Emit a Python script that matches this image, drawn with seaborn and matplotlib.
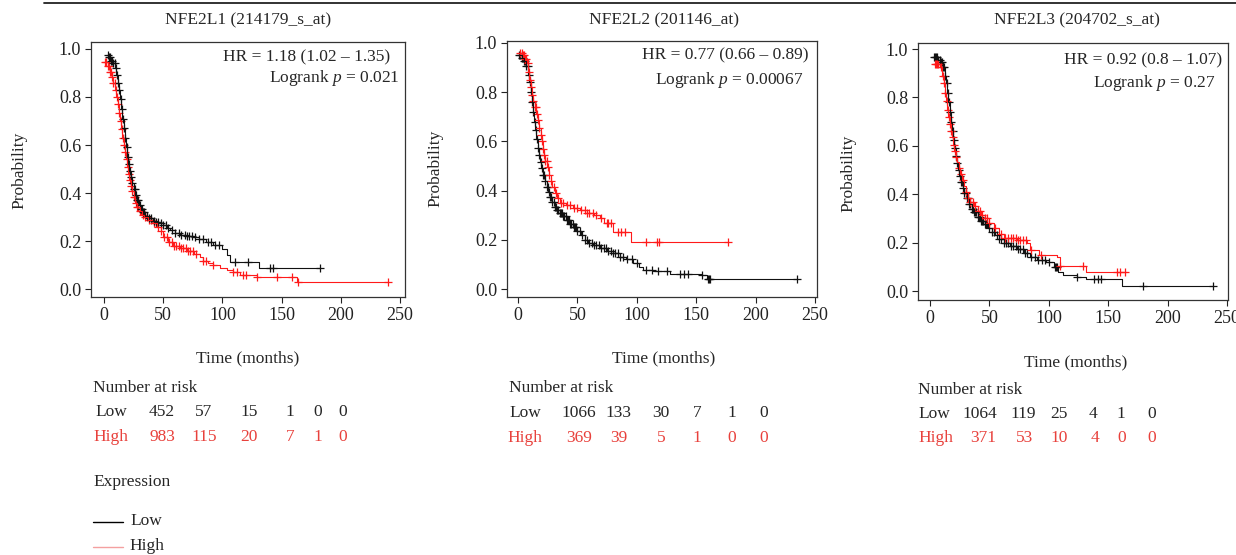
import matplotlib
matplotlib.use("Agg")
import matplotlib.pyplot as plt
from matplotlib.lines import Line2D
import numpy as np
import seaborn as sns

# ---- data ----
titles = ["NFE2L1 (214179_s_at)", "NFE2L2 (201146_at)", "NFE2L3 (204702_s_at)"]
hr_text = ["HR = 1.18 (1.02 \u2013 1.35)", "HR = 0.77 (0.66 \u2013 0.89)", "HR = 0.92 (0.8 \u2013 1.07)"]
logrank_p = ["0.021", "0.00067", "0.27"]

# NFE2L1
l1_low_t = [2, 4, 6, 8, 9.5, 10.5, 11.5, 12.5, 13.5, 14.5, 15.5, 16.5, 17.5, 18.5, 19.5, 20.5, 21.5, 22.5, 23.5,
            25, 26.5, 28, 29.5, 31, 33, 35, 38, 41, 44, 47, 50, 53, 56, 60, 64, 70, 75, 80, 86, 92, 100, 104, 106,
            131, 182]
l1_low_s = [0.975, 0.965, 0.95, 0.94, 0.92, 0.89, 0.86, 0.83, 0.79, 0.75, 0.71, 0.67, 0.63, 0.59, 0.55, 0.52, 0.49,
            0.465, 0.44, 0.415, 0.39, 0.37, 0.35, 0.335, 0.32, 0.305, 0.295, 0.285, 0.28, 0.275, 0.265, 0.255, 0.245,
            0.235, 0.226, 0.222, 0.217, 0.207, 0.195, 0.185, 0.165, 0.14, 0.114, 0.088, 0.088]
l1_low_cens = [3, 4, 5, 6, 7, 8, 9, 10, 11, 12, 13, 14, 15, 16, 17, 18, 19, 20, 21, 22, 23, 24, 25, 26, 27, 28, 29,
               30, 31, 32, 33, 34, 36, 38, 40, 42, 44, 46, 48, 50, 52, 54, 57, 60, 63, 65, 68, 70, 72, 74, 77, 80,
               84, 88, 90, 94, 97, 111, 122, 140, 143, 182]
l1_high_t = [1, 3, 5, 6.5, 8, 9.5, 10.5, 11.5, 12.5, 13.5, 14.5, 15.5, 16.5, 17.5, 18.5, 19.5, 20.5, 21.5, 22.5,
             23.5, 25, 26.5, 28, 30, 32, 34, 37, 41, 45, 48, 50, 54, 58, 64, 70, 76, 81, 84, 88, 92, 98, 104, 109,
             115, 129, 163, 240]
l1_high_s = [0.945, 0.93, 0.905, 0.885, 0.86, 0.83, 0.80, 0.77, 0.735, 0.70, 0.665, 0.63, 0.60, 0.57, 0.54, 0.51,
             0.48, 0.455, 0.43, 0.41, 0.385, 0.36, 0.34, 0.325, 0.31, 0.30, 0.287, 0.275, 0.26, 0.24, 0.215, 0.195,
             0.18, 0.17, 0.158, 0.145, 0.135, 0.118, 0.11, 0.10, 0.087, 0.08, 0.07, 0.06, 0.05, 0.028, 0.028]
l1_high_cens = [1, 2, 3, 4, 5, 6, 7, 8, 9, 10, 11, 12, 13, 14, 15, 16, 17, 18, 19, 20, 21, 22, 23, 24, 25, 26, 27,
                28, 29, 30, 31, 33, 35, 36, 38, 40, 42, 44, 46, 48, 51, 53, 55, 57, 59, 61, 63, 65, 67, 69, 71, 73,
                75, 78, 84, 86, 92, 109, 112, 117, 120, 129, 146, 159, 164, 240]

# NFE2L2
l2_low_t = [1, 3, 5, 7, 8.5, 9.5, 10.5, 11.5, 12.5, 13.5, 14.5, 15.5, 16.5, 17.5, 18.5, 19.5, 21, 22.5, 24, 25.5,
            27, 29, 31, 33, 35, 38, 41, 44, 47, 50, 53, 56, 59, 63, 69, 75, 80, 86, 91, 97, 102, 105, 114, 128, 155,
            159, 235]
l2_low_s = [0.95, 0.94, 0.925, 0.905, 0.87, 0.84, 0.80, 0.76, 0.72, 0.68, 0.645, 0.61, 0.575, 0.545, 0.515, 0.49,
            0.465, 0.44, 0.415, 0.395, 0.375, 0.355, 0.335, 0.32, 0.31, 0.295, 0.28, 0.265, 0.25, 0.235, 0.22, 0.20,
            0.185, 0.177, 0.167, 0.155, 0.145, 0.132, 0.12, 0.105, 0.088, 0.077, 0.072, 0.06, 0.056, 0.042, 0.042]
l2_low_cens = [1, 2, 3, 4, 5, 6, 7, 8, 9, 10, 11, 12, 13, 14, 15, 16, 17, 18, 19, 20, 21, 22, 23, 24, 25, 26, 27,
               28, 29, 30, 31, 32, 33, 34, 35, 36, 37, 38, 39, 40, 41, 42, 43, 44, 45, 46, 47, 48, 49, 50, 52, 54,
               56, 58, 60, 62, 64, 66, 68, 70, 72, 74, 76, 78, 80, 82, 84, 86, 88, 92, 96, 100, 108, 113, 118, 125,
               136, 140, 143, 155, 160, 161, 162, 235]
l2_high_t = [1.5, 4, 6, 7.5, 8.5, 9.5, 10.5, 11.5, 12.5, 14, 15.5, 17, 18, 19, 20, 21, 22, 23, 24.5, 26, 27.5, 29,
             31, 33, 35, 40, 46, 52, 58, 64, 69, 72, 80, 95, 177]
l2_high_s = [0.96, 0.95, 0.935, 0.92, 0.88, 0.85, 0.82, 0.79, 0.765, 0.74, 0.71, 0.685, 0.655, 0.625, 0.60, 0.57,
             0.545, 0.52, 0.495, 0.465, 0.44, 0.415, 0.39, 0.37, 0.35, 0.34, 0.33, 0.32, 0.31, 0.30, 0.29, 0.268,
             0.232, 0.19, 0.19]
l2_high_cens = [2, 3, 4, 5, 6, 7, 8, 9, 10, 11, 12, 13, 14, 15, 16, 17, 18, 19, 20, 21, 22, 23, 24, 25, 26, 28, 30,
                32, 34, 36, 38, 41, 44, 47, 50, 53, 56, 58, 60, 63, 66, 70, 75, 76, 78, 84, 87, 90, 108, 117, 119,
                177]

# NFE2L3
l3_low_t = [4, 7, 9, 11, 12.5, 13.5, 14.5, 15.5, 16.5, 17.5, 18.5, 19.5, 20.5, 21.5, 22.5, 23.5, 24.5, 26, 27.5, 29,
            31, 33, 35, 37, 40, 43, 46, 49, 52, 55, 58, 62, 67, 73, 79, 84, 90, 98, 104, 108, 112, 124, 131, 162,
            238]
l3_low_s = [0.967, 0.955, 0.945, 0.925, 0.89, 0.86, 0.82, 0.78, 0.74, 0.70, 0.66, 0.625, 0.59, 0.56, 0.53, 0.50,
            0.475, 0.45, 0.425, 0.405, 0.385, 0.36, 0.34, 0.325, 0.305, 0.29, 0.275, 0.26, 0.245, 0.23, 0.215, 0.20,
            0.185, 0.172, 0.158, 0.142, 0.13, 0.118, 0.10, 0.08, 0.068, 0.058, 0.05, 0.02, 0.02]
l3_low_cens = [3, 4, 5, 6, 7, 8, 9, 10, 11, 12, 13, 14, 15, 16, 17, 18, 19, 20, 21, 22, 23, 24, 25, 26, 27, 28, 29,
               30, 31, 32, 33, 34, 35, 36, 37, 38, 39, 40, 41, 42, 43, 44, 45, 46, 47, 48, 50, 52, 54, 56, 58, 60,
               62, 64, 66, 68, 70, 72, 74, 76, 78, 80, 82, 85, 88, 91, 94, 97, 100, 105, 106, 107, 124, 138, 141,
               144, 179, 238]
l3_high_t = [5, 8, 10, 11.5, 12.5, 13.5, 14.5, 15.5, 16.5, 17.5, 18.5, 19.5, 20.5, 21.5, 22.5, 24, 25.5, 27, 28.5,
             30, 32, 34, 37, 40, 43, 46, 50, 54, 58, 62, 73, 82, 84, 92, 107, 109, 131, 166]
l3_high_s = [0.94, 0.925, 0.89, 0.86, 0.82, 0.785, 0.75, 0.72, 0.69, 0.66, 0.635, 0.605, 0.58, 0.555, 0.535, 0.51,
             0.485, 0.46, 0.435, 0.41, 0.385, 0.37, 0.35, 0.33, 0.315, 0.30, 0.28, 0.26, 0.235, 0.218, 0.21, 0.198,
             0.17, 0.15, 0.14, 0.105, 0.08, 0.08]
l3_high_cens = [4, 5, 6, 7, 9, 11, 12, 13, 14, 15, 16, 17, 18, 19, 20, 21, 22, 24, 26, 28, 30, 32, 34, 36, 38, 40,
                42, 44, 46, 48, 50, 55, 60, 63, 66, 68, 70, 72, 74, 76, 78, 81, 85, 93, 109, 129, 157, 160, 164]

risk_low = [[452, 57, 15, 1, 0, 0], [1066, 133, 30, 7, 1, 0], [1064, 119, 25, 4, 1, 0]]
risk_high = [[983, 115, 20, 7, 1, 0], [369, 39, 5, 1, 0, 0], [371, 53, 10, 4, 0, 0]]

curves = [
    (l1_low_t, l1_low_s, l1_low_cens, l1_high_t, l1_high_s, l1_high_cens),
    (l2_low_t, l2_low_s, l2_low_cens, l2_high_t, l2_high_s, l2_high_cens),
    (l3_low_t, l3_low_s, l3_low_cens, l3_high_t, l3_high_s, l3_high_cens),
]

# ---- style ----
sns.set_style("ticks")
plt.rcParams["font.family"] = ["Liberation Serif", "DejaVu Serif"]
plt.rcParams["mathtext.fontset"] = "custom"
plt.rcParams["mathtext.rm"] = "Liberation Serif"
plt.rcParams["mathtext.it"] = "Liberation Serif:italic"

LOW_C = "#111111"
HIGH_C = "#ff1a1a"
TXT_RED = "#e8413c"
FS = 12.5

W, H = 1236, 555
fig = plt.figure(figsize=(W / 100, H / 100), dpi=100)


def fx(x):
    return x / W


def fy(y):
    return 1 - y / H


# axes boxes in pixels: left, right, top, bottom ; and limits
boxes = [(91, 405, 42, 297), (507, 817, 41, 297), (918, 1228, 43, 300)]
xlims = [(-11, 254.2), (-9.3, 251.7), (-10.1, 250.8)]
ylims = [(-0.033, 1.029), (-0.0325, 1.008), (-0.037, 1.025)]

title_pos = [(248, 20), (664, 20), (1077, 20)]
ylab_pos = [(19, 170), (435, 168), (848, 173)]
hr_pos = [(390, 57), (808, 55), (1222, 60)]
lr_pos = [(400, 78), (803, 80), (1215, 83)]
xlab_pos = [(248, 358), (664, 358), (1076, 362)]
nar_pos = [(93, 388), (509, 388), (918, 390)]
low_lab = [(95, 412), (509, 413), (918, 414)]
high_lab = [(93, 437), (507, 438), (918, 438)]
low_cols = [[162, 204, 249, 290, 318, 343], [579, 618, 661, 697, 732, 764], [980, 1023, 1059, 1093, 1121, 1152]]
high_cols = [[162, 204, 249, 290, 318, 343], [579, 619, 661, 697, 732, 764], [983, 1025, 1059, 1095, 1122, 1152]]


def step_at(t, s, c):
    idx = np.searchsorted(np.array(t), np.array(c), side="right") - 1
    idx = np.clip(idx, 0, len(s) - 1)
    return np.array(s)[idx]


for i in range(3):
    l, r, tp, b = boxes[i]
    ax = fig.add_axes([fx(l), fy(b), (r - l) / W, (b - tp) / H])
    lt, ls, lc, ht, hs, hc = curves[i]
    order = [("low", lt, ls, lc, LOW_C), ("high", ht, hs, hc, HIGH_C)]
    if i == 0:
        order = order[::-1]
    for name, t, s, c, col in order:
        sns.lineplot(x=t, y=s, drawstyle="steps-post", color=col, lw=0.8, ax=ax,
                     estimator=None, sort=False)
        sns.scatterplot(x=c, y=step_at(t, s, c), marker="+", color=col, s=30, linewidth=0.9, ax=ax)
    ax.set_xlim(*xlims[i])
    ax.set_ylim(*ylims[i])
    ax.set_xticks([0, 50, 100, 150, 200, 250])
    ax.set_yticks([0, 0.2, 0.4, 0.6, 0.8, 1.0])
    ax.set_yticklabels(["0.0", "0.2", "0.4", "0.6", "0.8", "1.0"])
    ax.tick_params(direction="out", length=4, width=0.8, labelsize=13, pad=3, colors="#222222")
    for sp in ax.spines.values():
        sp.set_visible(True)
        sp.set_linewidth(0.9)
        sp.set_color("#333333")
    ax.set_xlabel("")
    ax.set_ylabel("")

    fig.text(fx(title_pos[i][0]), fy(title_pos[i][1]), titles[i], ha="center", va="center", fontsize=FS)
    fig.text(fx(ylab_pos[i][0]), fy(ylab_pos[i][1]), "Probability", ha="center", va="center",
             rotation=90, fontsize=FS)
    fig.text(fx(hr_pos[i][0]), fy(hr_pos[i][1]), hr_text[i], ha="right", va="center", fontsize=FS)
    fig.text(fx(lr_pos[i][0]), fy(lr_pos[i][1]), "Logrank $p$ = " + logrank_p[i], ha="right", va="center",
             fontsize=FS)
    fig.text(fx(xlab_pos[i][0]), fy(xlab_pos[i][1]), "Time (months)", ha="center", va="center", fontsize=FS)
    fig.text(fx(nar_pos[i][0]), fy(nar_pos[i][1]), "Number at risk", ha="left", va="center", fontsize=FS)
    fig.text(fx(low_lab[i][0]), fy(low_lab[i][1]), "Low", ha="left", va="center", fontsize=FS)
    fig.text(fx(high_lab[i][0]), fy(high_lab[i][1]), "High", ha="left", va="center", fontsize=FS, color=TXT_RED)
    for x, v in zip(low_cols[i], risk_low[i]):
        fig.text(fx(x), fy(low_lab[i][1]), str(v), ha="center", va="center", fontsize=FS)
    for x, v in zip(high_cols[i], risk_high[i]):
        fig.text(fx(x), fy(high_lab[i][1]), str(v), ha="center", va="center", fontsize=FS, color=TXT_RED)

# legend block
fig.text(fx(93), fy(482), "Expression", ha="left", va="center", fontsize=FS)
fig.add_artist(Line2D([fx(93), fx(123)], [fy(522), fy(522)], color="black", lw=1.0))
fig.text(fx(130), fy(521), "Low", ha="left", va="center", fontsize=FS)
fig.add_artist(Line2D([fx(93), fx(123)], [fy(547), fy(547)], color="#f4a0a0", lw=1.0))
fig.text(fx(129), fy(546), "High", ha="left", va="center", fontsize=FS)

# top rule
fig.add_artist(Line2D([fx(44), 1.0], [fy(3), fy(3)], color="#222222", lw=1.3))

fig.savefig("out.png", dpi=100)
